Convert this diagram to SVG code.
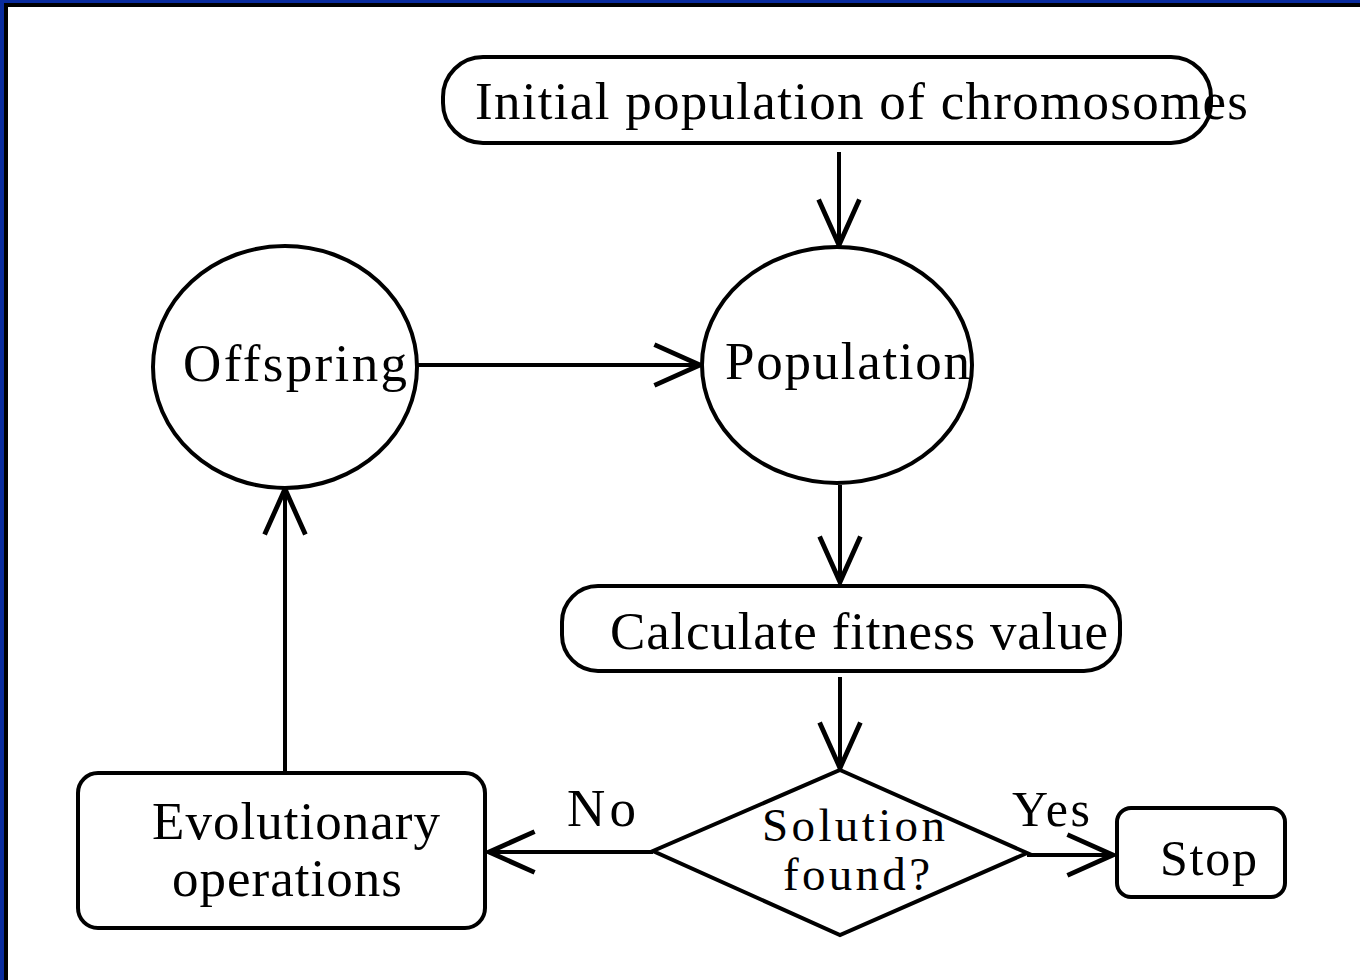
<svg xmlns="http://www.w3.org/2000/svg" width="1360" height="980" viewBox="0 0 1360 980">
<style>
.shape{fill:#fff;stroke:#000;stroke-width:4}
.conn{fill:none;stroke:#000;stroke-width:4}
.t{font-family:"Liberation Serif","Times New Roman",serif;font-size:53px;fill:#000}
.s{font-size:50px}
.d{font-size:47px}
</style>
<defs>
<marker id="arr" markerUnits="userSpaceOnUse" markerWidth="60" markerHeight="60" viewBox="-45 -25 50 50" refX="0" refY="0" orient="auto">
<path d="M -38 -17 L 0 0 L -38 17" fill="none" stroke="#000" stroke-width="4"/>
</marker>
</defs>
<rect x="0" y="0" width="1360" height="980" fill="#fff"/>
<rect x="0" y="0" width="1360" height="3" fill="#0a2c9e"/>
<rect x="0" y="0" width="4" height="980" fill="#0a2c9e"/>
<rect x="4" y="3" width="1356" height="4" fill="#000"/>
<rect x="4" y="3" width="4" height="977" fill="#000"/>

<g id="connectors">
<line class="conn" x1="839" y1="152" x2="839" y2="245" marker-end="url(#arr)"/>
<line class="conn" x1="417" y1="365" x2="700" y2="365" marker-end="url(#arr)"/>
<line class="conn" x1="840" y1="485" x2="840" y2="582" marker-end="url(#arr)"/>
<line class="conn" x1="840" y1="677" x2="840" y2="768" marker-end="url(#arr)"/>
<line class="conn" x1="653" y1="852" x2="489" y2="852" marker-end="url(#arr)"/>
<line class="conn" x1="1027" y1="855" x2="1113" y2="855" marker-end="url(#arr)"/>
<line class="conn" x1="285" y1="771" x2="285" y2="489" marker-end="url(#arr)"/>
<text class="t" x="567" y="826" textLength="69" lengthAdjust="spacing">No</text>
<text class="t s" x="1012" y="826" textLength="78" lengthAdjust="spacing">Yes</text>
</g>

<g id="initial">
<rect class="shape" x="443" y="57" width="768" height="86" rx="40" ry="40"/>
<text class="t" x="475" y="119" textLength="773" lengthAdjust="spacing">Initial population of chromosomes</text>
</g>

<g id="population">
<ellipse class="shape" cx="837" cy="365" rx="135" ry="118"/>
<text class="t" x="725" y="379" textLength="245" lengthAdjust="spacing">Population</text>
</g>

<g id="offspring">
<ellipse class="shape" cx="285" cy="367" rx="132" ry="121"/>
<text class="t" x="183" y="381" textLength="224" lengthAdjust="spacing">Offspring</text>
</g>

<g id="calculate">
<rect class="shape" x="562" y="586" width="558" height="85" rx="36" ry="36"/>
<text class="t" x="610" y="649" textLength="498" lengthAdjust="spacing">Calculate fitness value</text>
</g>

<g id="decision">
<polygon class="shape" points="840,770 1027,853 840,935 653,851"/>
<text class="t d" x="762" y="841" textLength="183" lengthAdjust="spacing">Solution</text>
<text class="t d" x="783" y="890" textLength="147" lengthAdjust="spacing">found?</text>
</g>

<g id="stop">
<rect class="shape" x="1117" y="808" width="168" height="89" rx="14" ry="14"/>
<text class="t s" x="1160" y="875" textLength="97" lengthAdjust="spacing">Stop</text>
</g>

<g id="evolutionary">
<rect class="shape" x="78" y="773" width="407" height="155" rx="20" ry="20"/>
<text class="t" x="152" y="839" textLength="288" lengthAdjust="spacing">Evolutionary</text>
<text class="t" x="172" y="896" textLength="230" lengthAdjust="spacing">operations</text>
</g>
</svg>
